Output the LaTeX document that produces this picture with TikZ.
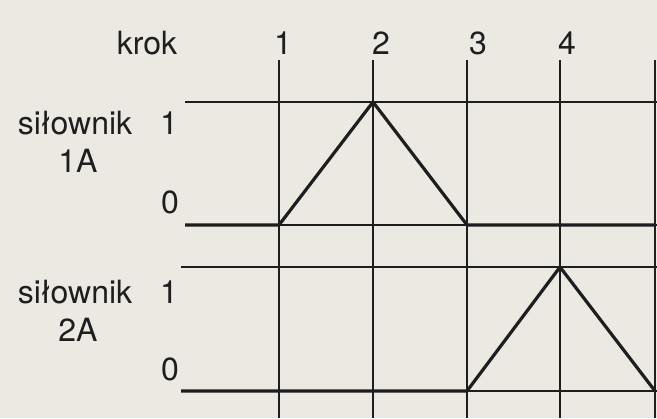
\documentclass[tikz,border=0pt]{standalone}
\usepackage{fontspec}
\setmainfont{TeX Gyre Heros}
\usepackage{tikz}
\usetikzlibrary{positioning}
\definecolor{paper}{HTML}{ECE9E3}
\definecolor{ink}{HTML}{1E1E1E}

\begin{document}
\begin{tikzpicture}[x=0.75pt,y=-0.75pt,
    gridline/.style={ink,line width=1.1pt},
    signal/.style={ink,line width=2.4pt,line join=round},
    lbl/.style={font=\fontsize{24}{26}\selectfont,text=ink,inner sep=0pt}]
  % background
  \fill[paper] (0,0) rectangle (657,418);
  \useasboundingbox (0,0) rectangle (657,418);

  % step lines
  \foreach \x/\k in {279/1,373/2,467/3,560/4,655/5}
    \draw[gridline] (\x,60) -- (\x,418);
  \draw[ink,line width=1.6pt] (467,60) -- (467,418);

  % level lines
  \draw[gridline] (185,102) -- (657,102);
  \draw[gridline] (185,225) -- (657,225);
  \draw[gridline] (181,267) -- (657,267);
  \draw[gridline] (181,391) -- (657,391);

  % header
  \node[lbl] (krok) at (147,43) {krok};
  \foreach \x/\k in {283/1,381/2,478/3,567/4}
    \node[lbl] (k\k) at (\x,43) {\k};

  % actuator 1A
  \node[lbl] (s1) at (75,123) {siłownik};
  \node[lbl] (a1) at (78,161) {1A};
  \node[lbl] (h1) at (169,123) {1};
  \node[lbl] (l1) at (170,202) {0};
  \draw[signal] (185,225) -- (279,225) -- (373,102) -- (467,225) -- (655,225);

  % actuator 2A
  \node[lbl] (s2) at (75,292) {siłownik};
  \node[lbl] (a2) at (78,330) {2A};
  \node[lbl] (h2) at (169,292) {1};
  \node[lbl] (l2) at (170,369) {0};
  \draw[signal] (181,391) -- (467,391) -- (560,267) -- (655,391);
\end{tikzpicture}
\end{document}
